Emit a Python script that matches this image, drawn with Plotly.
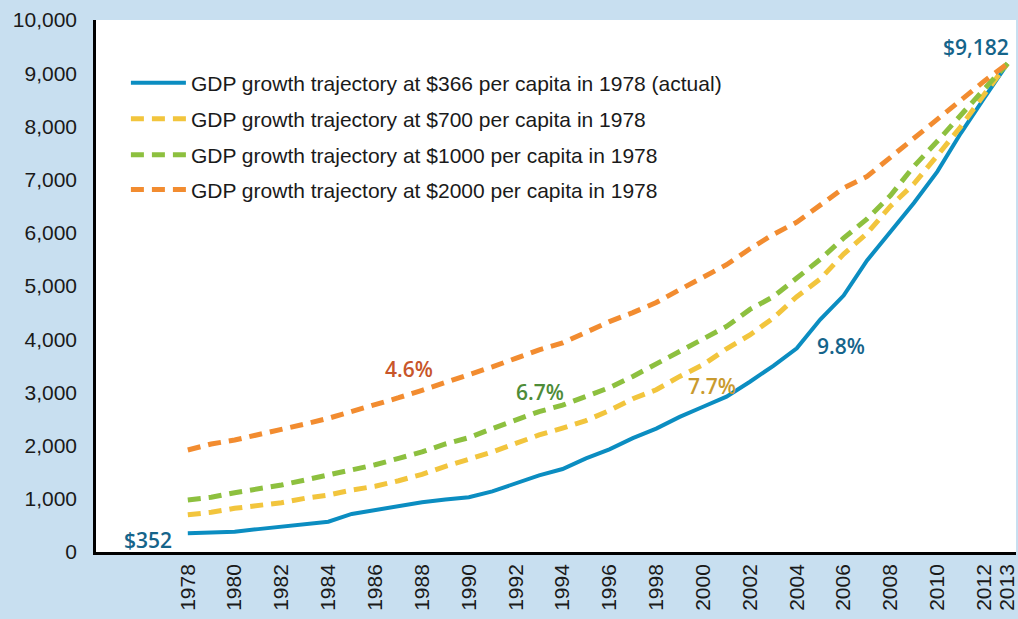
import plotly.graph_objects as go

years = list(range(1978, 2014))

actual_366 = [352, 367, 382, 430, 475, 520, 570, 715, 785, 850, 935, 985, 1030, 1140, 1300, 1440,
              1560, 1760, 1930, 2140, 2320, 2540, 2730, 2920, 3200, 3500, 3830, 4370, 4820, 5480,
              6020, 6560, 7150, 7870, 8530, 9182]
traj_700 = [700, 746, 821, 870, 927, 1009, 1071, 1165, 1235, 1340, 1460, 1610, 1740, 1880, 2040, 2200,
            2330, 2470, 2660, 2880, 3050, 3300, 3520, 3820, 4080, 4400, 4800, 5130, 5600, 5990,
            6500, 6920, 7450, 7994, 8600, 9182]
traj_1000 = [977, 1028, 1115, 1178, 1259, 1353, 1447, 1541, 1640, 1760, 1880, 2030, 2150, 2320, 2480, 2640,
             2760, 2920, 3090, 3300, 3530, 3780, 3990, 4240, 4560, 4800, 5150, 5500, 5900, 6260,
             6700, 7250, 7720, 8220, 8700, 9182]
traj_2000 = [1917, 2030, 2105, 2200, 2293, 2406, 2513, 2640, 2760, 2900, 3040, 3180, 3340, 3480, 3640, 3800,
             3930, 4130, 4330, 4500, 4690, 4930, 5160, 5400, 5700, 5970, 6200, 6530, 6840, 7060,
             7420, 7780, 8150, 8500, 8850, 9182]

series_names = [
    "GDP growth trajectory at $366 per capita in 1978 (actual)",
    "GDP growth trajectory at $700 per capita in 1978",
    "GDP growth trajectory at $1000 per capita in 1978",
    "GDP growth trajectory at $2000 per capita in 1978",
]

x_tickvals = list(range(1978, 2013, 2)) + [2013]
y_tickvals = list(range(0, 10001, 1000))

# annotation texts and anchor points (data coords)
ann_texts = ["$352", "$9,182", "9.8%", "7.7%", "6.7%", "4.6%"]
ann_x = [1976.3, 2011.66, 2005.87, 2000.37, 1993.04, 1987.46]
ann_y = [225, 9490, 3870, 3120, 3007, 3440]
ann_colors = ["#15648a", "#15648a", "#15648a", "#c99a2e", "#4e8c38", "#c8562a"]

BLUE = "#0b8dc1"
YELLOW = "#f2c53d"
GREEN = "#8dc03f"
ORANGE = "#f28c30"

series = [actual_366, traj_700, traj_1000, traj_2000]
colors = [BLUE, YELLOW, GREEN, ORANGE]
widths = [4, 5, 5, 5]
dashes = ["solid", "13px,8px", "13px,8px", "13px,8px"]
legend_ids = ["legend", "legend2", "legend3", "legend4"]
legend_y = [0.8816, 0.8139, 0.7462, 0.6805]

fig = go.Figure()
for vals, name, c, w, d, lg in zip(series, series_names, colors, widths, dashes, legend_ids):
    fig.add_trace(go.Scatter(x=years, y=vals, mode="lines", name=name, legend=lg,
                             line=dict(color=c, width=w, dash=d)))

for t, x, y, c in zip(ann_texts, ann_x, ann_y, ann_colors):
    fig.add_annotation(x=x, y=y, text=t, showarrow=False, xref="x", yref="y",
                       font=dict(family="Open Sans", size=21, color=c, weight=600))

legend_common = dict(x=0.0325, xanchor="left", yanchor="middle",
                     bgcolor="rgba(0,0,0,0)", font=dict(size=21, color="#1a1a1a"),
                     itemwidth=55, tracegroupgap=0)
layout_legends = {lg: dict(y=ly, **legend_common) for lg, ly in zip(legend_ids, legend_y)}

fig.update_layout(
    width=1018, height=619,
    margin=dict(l=96, r=0, t=20, b=67),
    paper_bgcolor="#c8dff0",
    plot_bgcolor="#ffffff",
    font=dict(family="Liberation Sans, Arial, sans-serif", size=20, color="#1a1a1a"),
    showlegend=True,
    **layout_legends,
)
fig.update_xaxes(range=[1974.08, 2013.36], tickmode="array", tickvals=x_tickvals,
                 ticktext=[str(v) for v in x_tickvals], tickangle=-90,
                 ticklabeloverflow="allow",
                 showgrid=False, zeroline=False, showline=True, linecolor="#000000", linewidth=2.5,
                 ticks="outside", ticklen=1, tickcolor="rgba(0,0,0,0)",
                 tickfont=dict(size=21, color="#1a1a1a"))
fig.update_yaxes(range=[0, 10000], tickmode="array", tickvals=y_tickvals, tickformat=",",
                 showgrid=False, zeroline=False, showline=True, linecolor="#000000", linewidth=2.5,
                 ticks="outside", ticklen=12, tickcolor="rgba(0,0,0,0)",
                 tickfont=dict(size=21, color="#1a1a1a"))

fig.write_html("out.html", config={"displayModeBar": False},
               post_script="document.body.style.margin='0';document.body.style.overflow='hidden';")
